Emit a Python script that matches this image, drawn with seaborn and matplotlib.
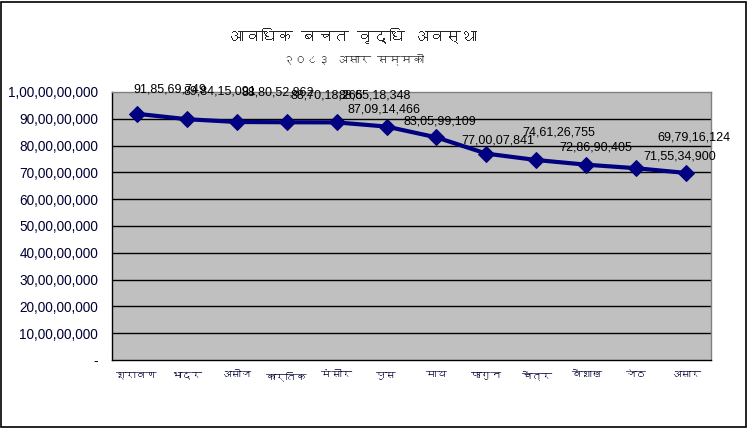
import pandas as pd
import matplotlib
matplotlib.use("Agg")
import matplotlib.pyplot as plt
import seaborn as sns
from matplotlib import font_manager
from matplotlib.ft2font import FT2Font
from matplotlib.ticker import FixedLocator, FuncFormatter, NullFormatter
from matplotlib.patches import Rectangle

# --- data ---
months = ["श्रावण", "भाद्र", "असोज", "कार्तिक", "मंसीर", "पुस",
          "माघ", "फागुन", "चैत्र", "बैशाख", "जेठ", "असार"]
balance = [918569749, 898415091, 888052862, 887018265, 886518348, 870914466,
           830599109, 770007841, 746126755, 728690405, 715534900, 697916124]
title = "आवधिक बचत वृद्धि अवस्था"
subtitle = "२०८३ असार सम्मको"

# label offsets in pixels (dx, dy) - labels were dragged around in the original
label_off = [(33, 24), (33, 28), (41, 29), (40, 27), (38, 27), (-3, 17),
             (3, 16), (11, 13), (23, 28), (10, 17), (44, 12), (8, 35)]


def find_deva_font():
    for f in font_manager.fontManager.ttflist:
        try:
            if 0x0915 in FT2Font(f.fname).get_charmap():
                return f.name
        except Exception:
            pass
    return None


def indian(n, pos=None):
    n = int(round(n))
    if n == 0:
        return "-"
    s = str(n)
    head, tail = s[:-3], s[-3:]
    parts = []
    while len(head) > 2:
        parts.insert(0, head[-2:])
        head = head[:-2]
    if head:
        parts.insert(0, head)
    return ",".join(parts + [tail])


sns.set_style("white")
deva = find_deva_font()
latin = "Liberation Sans"
fam = [deva, latin, "DejaVu Sans"] if deva else [latin, "DejaVu Sans"]
plt.rcParams["font.family"] = [latin, "DejaVu Sans"]

df = pd.DataFrame({"month": months, "balance": balance})
df["x"] = range(len(months))

fig = plt.figure(figsize=(7.48, 4.28), dpi=100)
fig.patch.set_facecolor("white")
fig.add_artist(Rectangle((0.002, 0.003), 0.995, 0.993, transform=fig.transFigure,
                         fill=False, edgecolor="black", linewidth=1.2))

ax = fig.add_axes([0.1497, 0.1589, 0.8008, 0.6262])
ax.set_facecolor("#C0C0C0")

sns.lineplot(data=df, x="x", y="balance", ax=ax, color="#000080",
             linewidth=3, marker="D", markersize=8, markeredgecolor="#000080")

ax.set_xlim(-0.5, len(months) - 0.5)
ax.set_ylim(0, 1e9)
ax.set_xlabel("")
ax.set_ylabel("")

yt = [i * 1e8 for i in range(11)]
ax.set_yticks(yt)
ax.yaxis.set_major_formatter(FuncFormatter(indian))
for v in yt[1:-1]:
    ax.axhline(v, color="black", linewidth=1, zorder=1)

ax.xaxis.set_major_locator(FixedLocator([i - 0.5 for i in range(len(months) + 1)]))
ax.xaxis.set_major_formatter(NullFormatter())
ax.xaxis.set_minor_locator(FixedLocator(list(range(len(months)))))
ax.set_xticklabels(months, minor=True)
ax.tick_params(axis="x", which="major", direction="out", length=4, width=1, color="black")
ax.tick_params(axis="x", which="minor", length=0, pad=8, labelsize=7.5)
ax.tick_params(axis="y", direction="out", length=4, width=1, color="black",
               labelsize=9.8, labelcolor="#000033", pad=6)
for lab in ax.get_xticklabels(minor=True):
    lab.set_family(fam)
    lab.set_color("#000033")

for sp in ["left", "bottom"]:
    ax.spines[sp].set_color("black")
    ax.spines[sp].set_linewidth(1)
for sp in ["top", "right"]:
    ax.spines[sp].set_color("#808080")
    ax.spines[sp].set_linewidth(1)

for i, v in enumerate(balance):
    dx, dy = label_off[i]
    ax.annotate(indian(v), (i, v), xytext=(dx * 0.72, dy * 0.72),
                textcoords="offset points", ha="center", va="center",
                fontsize=9, color="black", zorder=5)

fig.text(0.472, 0.915, title, ha="center", va="center", fontsize=11.5,
         fontweight="bold", family=fam)
fig.text(0.472, 0.862, subtitle, ha="center", va="center", fontsize=8.5,
         fontweight="bold", family=fam)

fig.savefig("out.png", dpi=100)
